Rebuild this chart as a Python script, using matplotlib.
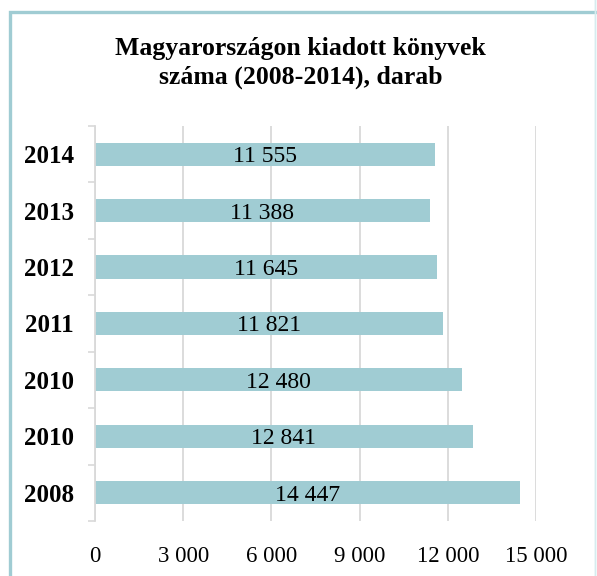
import numpy as np
import matplotlib.pyplot as plt
from matplotlib.patches import Rectangle

# data (bottom to top)
years = ['2008', '2010', '2010', '2011', '2012', '2013', '2014']
books = [14447, 12841, 12480, 11821, 11645, 11388, 11555]
x_ticks = [0, 3000, 6000, 9000, 12000, 15000]

title = "Magyarországon kiadott könyvek\nszáma (2008-2014), darab"

bar_color = '#A0CCD3'
grid_color = '#D9D9D9'


def fmt(v):
    return f"{v:,}".replace(",", " ")


plt.rcParams['font.family'] = ['Liberation Serif', 'DejaVu Serif']

fig = plt.figure(figsize=(5.97, 5.76), dpi=100)
ax = fig.add_axes([0.159, 0.0955, 0.739, 0.686])

y = np.arange(len(years))
ax.barh(y, books, height=0.41, color=bar_color, zorder=2)
for yi, v in zip(y, books):
    ax.text(v / 2, yi, fmt(v), ha='center', va='center_baseline', fontsize=17, zorder=3)

ax.set_xlim(0, 15000)
ax.set_ylim(-0.5, len(years) - 0.5)
ax.set_xticks(x_ticks)
ax.set_xticklabels([fmt(t) for t in x_ticks], fontsize=16.5)
ax.set_yticks(y)
ax.set_yticklabels(years, fontsize=18, fontweight='bold')
ax.set_yticks(np.arange(-0.5, len(years)), minor=True)
ax.tick_params(axis='x', length=0, pad=18)
ax.tick_params(axis='y', which='major', length=0, pad=15)
ax.tick_params(axis='y', which='minor', length=5, width=1.2, color=grid_color)

ax.grid(axis='x', color=grid_color, linewidth=1.3, zorder=0)
ax.set_axisbelow(True)
for s in ['top', 'right', 'bottom']:
    ax.spines[s].set_visible(False)
ax.spines['left'].set_color(grid_color)
ax.spines['left'].set_linewidth(1.3)

fig.text(0.503, 0.891, title, ha='center', va='center', fontsize=18.5,
         fontweight='bold', linespacing=1.28)

# outer chart border
fig.patches.append(Rectangle((9.5 / 597, -0.05), 1.2, 1 - 11.5 / 576 + 0.05,
                             transform=fig.transFigure, fill=False,
                             edgecolor=bar_color, linewidth=2.4))
fig.patches.append(Rectangle((595 / 597, -0.05), 0.0, 1.1,
                             transform=fig.transFigure, fill=False,
                             edgecolor='#D6ECEF', linewidth=1))

fig.savefig('out.png', dpi=100)
